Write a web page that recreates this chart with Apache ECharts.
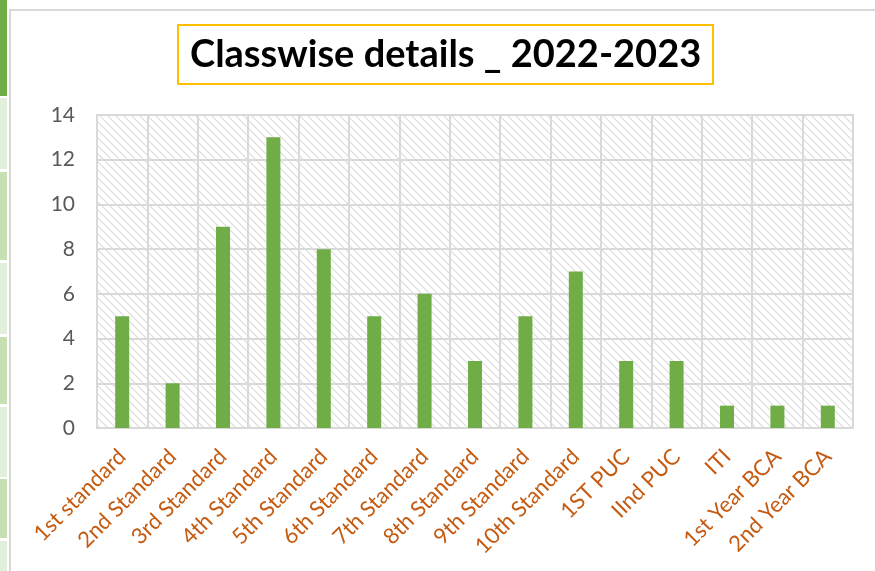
<!DOCTYPE html>
<html>
<head>
<meta charset="utf-8">
<script src="https://cdn.jsdelivr.net/npm/echarts@6/dist/echarts.min.js"></script>
<style>html,body{margin:0;padding:0;background:#fff;}#c{width:875px;height:571px;}</style>
</head>
<body>
<div id="c"></div>
<script>
const categories = ['1st standard','2nd Standard','3rd Standard','4th Standard','5th Standard','6th Standard','7th Standard','8th Standard','9th Standard','10th Standard','1ST PUC','IInd PUC','ITI','1st Year BCA','2nd Year BCA'];
const counts = [5,2,9,13,8,5,6,3,5,7,3,3,1,1,1];
const yTicks = [0,2,4,6,8,10,12,14];

// hatch pattern
const pc = document.createElement('canvas');
pc.width = 8; pc.height = 8;
const g = pc.getContext('2d');
g.fillStyle = '#ffffff'; g.fillRect(0,0,8,8);
g.strokeStyle = '#dcdcdc'; g.lineWidth = 1.2;
g.beginPath();
g.moveTo(-1,-1); g.lineTo(9,9);
g.moveTo(-1,7); g.lineTo(1,9);
g.moveTo(7,-1); g.lineTo(9,1);
g.stroke();

const chart = echarts.init(document.getElementById('c'), null, {renderer:'canvas'});
const font = 'Lato, "Noto Sans", sans-serif';

// left spreadsheet strip cells
const strip = [[0,96,'#70AD47'],[98,169,'#E2EFDA'],[172,260,'#C6E0B4'],[263,334,'#E2EFDA'],[337,404,'#C6E0B4'],[407,477,'#E2EFDA'],[479,538,'#C6E0B4'],[541,571,'#E2EFDA']];
const graphics = strip.map(s => ({type:'rect', shape:{x:0,y:s[0],width:7,height:s[1]-s[0]}, style:{fill:s[2]}, silent:true}));
graphics.push({type:'rect', shape:{x:9,y:9,width:2,height:562}, style:{fill:'#d9d9d9'}, silent:true});
graphics.push({type:'rect', shape:{x:9,y:9,width:866,height:2}, style:{fill:'#d9d9d9'}, silent:true});

chart.setOption({
  animation:false,
  backgroundColor:'#ffffff',
  graphic: graphics,
  title:{
    text:'Classwise details _ 2022-2023',
    left:178, top:25,
    padding:[8,12,8,12],
    borderColor:'#FFC000', borderWidth:2,
    textStyle:{fontFamily:font, fontWeight:'bold', fontSize:38, lineHeight:43, color:'#000000'}
  },
  grid:{left:97, right:22, top:115, bottom:143, show:true,
    backgroundColor:{image:pc, repeat:'repeat'}, borderColor:'#d9d9d9', borderWidth:2},
  xAxis:{
    type:'category', data:categories,
    axisLine:{show:true, lineStyle:{color:'#d9d9d9', width:2}},
    axisTick:{show:false},
    splitLine:{show:true, interval:0, lineStyle:{color:'#d9d9d9', width:2}},
    axisLabel:{interval:0, rotate:45, margin:25, color:'#C55A11', fontFamily:font, fontSize:22}
  },
  yAxis:{
    type:'value', min:yTicks[0], max:yTicks[yTicks.length-1], interval:2,
    axisLine:{show:false}, axisTick:{show:false},
    splitLine:{show:true, lineStyle:{color:'#d9d9d9', width:2}},
    axisLabel:{margin:22, color:'#595959', fontFamily:font, fontSize:21}
  },
  series:[{
    type:'bar', data:counts, barWidth:14,
    itemStyle:{color:'#70AD47'}
  }]
});
</script>
</body>
</html>
